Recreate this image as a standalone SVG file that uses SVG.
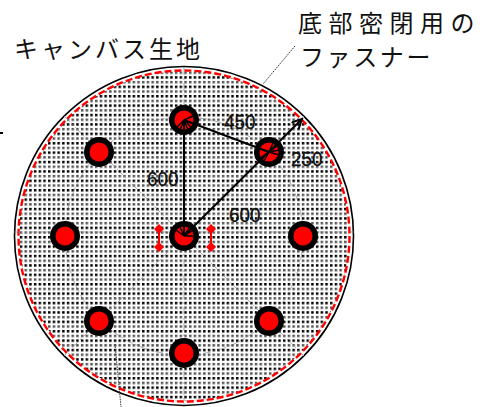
<svg xmlns="http://www.w3.org/2000/svg" width="494" height="407" viewBox="0 0 494 407">
<style>
.jp{font-family:"Noto Sans CJK JP","Liberation Sans",sans-serif;font-size:24px;fill:#111}
.num{font-family:"Liberation Sans",Arial,sans-serif;font-size:21px;fill:#111;stroke:#111;stroke-width:.3}
.bo{fill:#000}.re{fill:#f00}
.ln{stroke:#000;stroke-width:2;fill:none}
.ctr{stroke:#888;stroke-width:.7;stroke-dasharray:8 3 2 3;fill:none}
</style>
<defs>
<pattern id="dots" width="4.7" height="9.4" patternUnits="userSpaceOnUse" x="1" y="1">
<rect width="4.7" height="9.4" fill="#fff"/>
<rect x="0" y="0" width="2.5" height="2.5" fill="#000"/>
<rect x="0" y="4.7" width="2.5" height="2.5" fill="#555"/>
</pattern>
<marker id="ah" markerWidth="12" markerHeight="12" refX="10" refY="5" orient="auto" markerUnits="userSpaceOnUse"><path d="M0 0L10 5L0 10" fill="none" stroke="#000" stroke-width="2"/></marker>
</defs>
<g id="canvas">
<circle cx="184" cy="236" r="169.5" fill="#fff" stroke="#000" stroke-width="1.6"/>
<circle cx="184" cy="236" r="165" fill="url(#dots)"/>
<circle cx="184" cy="236" r="165.5" fill="none" stroke="#f00" stroke-width="2.4" stroke-dasharray="7 3"/>
</g>
<g id="centerlines">
<path class="ctr" d="M14 232H354M184 67V405M64 116L304 356M304 116L64 356"/>
<circle class="ctr" cx="184" cy="236" r="119"/>
</g>
<g id="bolt1"><circle class="bo" cx="184" cy="120" r="15"/><circle class="re" cx="184" cy="120" r="9.5"/></g>
<g id="bolt2"><circle class="bo" cx="99" cy="152" r="15"/><circle class="re" cx="99" cy="152" r="9.5"/></g>
<g id="bolt3"><circle class="bo" cx="65" cy="236" r="15"/><circle class="re" cx="65" cy="236" r="9.5"/></g>
<g id="bolt4"><circle class="bo" cx="99" cy="321" r="15"/><circle class="re" cx="99" cy="321" r="9.5"/></g>
<g id="bolt5"><circle class="bo" cx="184" cy="353" r="15"/><circle class="re" cx="184" cy="353" r="9.5"/></g>
<g id="bolt6"><circle class="bo" cx="269" cy="321" r="15"/><circle class="re" cx="269" cy="321" r="9.5"/></g>
<g id="bolt7"><circle class="bo" cx="303" cy="236" r="15"/><circle class="re" cx="303" cy="236" r="9.5"/></g>
<g id="bolt8"><circle class="bo" cx="269" cy="152" r="15"/><circle class="re" cx="269" cy="152" r="9.5"/></g>
<g id="bolt9"><circle class="bo" cx="184" cy="236" r="15"/><circle class="re" cx="184" cy="236" r="9.5"/></g>
<g id="slit-left" fill="#f00"><path d="M159 224L164 229L159 234L154 229ZM159 242L164 247L159 252L154 247Z"/><path d="M159 229V247" stroke="#f00" stroke-width="2"/></g>
<g id="slit-right" fill="#f00"><path d="M211 224L216 229L211 234L206 229ZM211 242L216 247L211 252L206 247Z"/><path d="M211 229V247" stroke="#f00" stroke-width="2"/></g>
<g id="connectors">
<path class="ln" d="M184 120V236"/>
<path class="ln" d="M184 236L302 119" marker-end="url(#ah)"/>
<path class="ln" d="M184 120L269 152"/>
<path d="M295 46L263 84" stroke="#333" stroke-width="1" stroke-dasharray="1.5 1" fill="none"/>
<path d="M115 344L121 407" stroke="#333" stroke-width="1" stroke-dasharray="1.5 1" fill="none"/>
<path d="M0 133H3" stroke="#000" stroke-width="2"/>
<g stroke="#000" stroke-width="1.4" fill="none">
<path d="M184 120L176 128M184 120L180 130M184 120L184 131M184 120L188 130M184 120L192 128M184 120L194 124M184 120L193 116"/>
<path d="M269 152L258 148M269 152L260 158M269 152L264 161M269 152L273 143M269 152L277 146M269 152L279 150M269 152L279 155"/>
<path d="M184 236L176 230M184 236L180 227M184 236L184 226M184 236L189 228M184 236L192 231M184 236L194 236"/>
</g>
</g>
<g id="labels">
<text class="jp" x="14" y="58" style="letter-spacing:3px">キャンバス生地</text>
<text class="jp" x="298" y="32" style="letter-spacing:6.5px">底部密閉用の</text>
<text class="jp" x="300" y="66" style="letter-spacing:2.6px">ファスナー</text>
<text class="num" transform="translate(224 129) scale(.9 1)">450</text>
<text class="num" transform="translate(291 166) scale(.9 1)">250</text>
<text class="num" transform="translate(147 186) scale(.9 1)">600</text>
<text class="num" transform="translate(229 222) scale(.9 1)">600</text>
</g>
</svg>
